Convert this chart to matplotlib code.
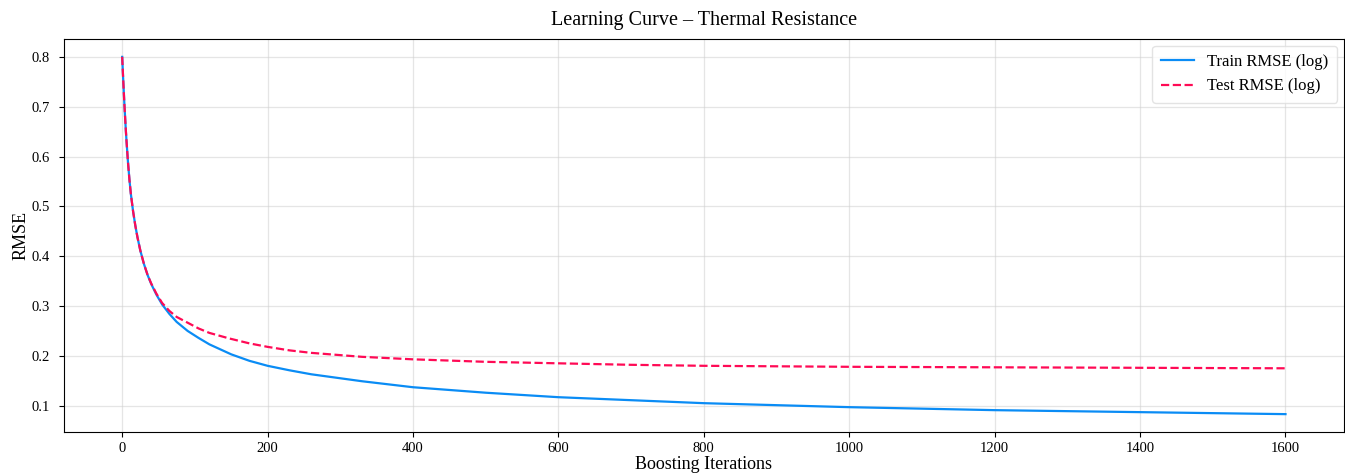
import matplotlib
matplotlib.use("Agg")
import matplotlib.pyplot as plt

plt.rcParams["font.family"] = ["Liberation Serif", "DejaVu Serif"]

# Boosting iterations at which the RMSE was recorded
train_iters = [0, 1, 2, 3, 4, 5, 6, 8, 10, 12, 15, 18, 21, 25, 30, 35, 40, 47,
               55, 65, 75, 90, 105, 120, 150, 175, 200, 230, 260, 330, 400,
               500, 600, 700, 800, 900, 1000, 1200, 1400, 1600]
train_rmse = [0.800, 0.767, 0.736, 0.706, 0.679, 0.653, 0.630, 0.588, 0.553,
              0.524, 0.490, 0.462, 0.438, 0.411, 0.384, 0.362, 0.344, 0.323,
              0.303, 0.284, 0.268, 0.250, 0.236, 0.223, 0.203, 0.190, 0.180,
              0.171, 0.163, 0.149, 0.137, 0.126, 0.117, 0.111, 0.105, 0.101,
              0.097, 0.091, 0.087, 0.083]

test_iters = [0, 1, 2, 3, 4, 5, 6, 8, 10, 12, 15, 18, 21, 25, 30, 35, 40, 47,
              55, 65, 75, 92, 105, 120, 147, 175, 200, 230, 260, 330, 400,
              500, 600, 700, 800, 900, 1000, 1200, 1400, 1600]
test_rmse = [0.800, 0.767, 0.736, 0.706, 0.679, 0.653, 0.630, 0.588, 0.553,
             0.524, 0.490, 0.462, 0.438, 0.411, 0.384, 0.362, 0.345, 0.325,
             0.306, 0.290, 0.278, 0.265, 0.255, 0.246, 0.235, 0.225, 0.218,
             0.211, 0.206, 0.198, 0.193, 0.188, 0.185, 0.182, 0.180, 0.179,
             0.178, 0.177, 0.176, 0.175]

fig = plt.figure(figsize=(13.45, 4.74), dpi=100)
ax = fig.add_axes([0.0476, 0.0886, 0.9514, 0.8291])

ax.plot(train_iters, train_rmse, color="#0a8cf5", lw=1.6, label="Train RMSE (log)")
ax.plot(test_iters, test_rmse, color="#ff0a55", lw=1.6, ls="--",
        label="Test RMSE (log)")

ax.set_title("Learning Curve \u2013 Thermal Resistance", fontsize=14.5, pad=10)
ax.set_xlabel("Boosting Iterations", fontsize=13, labelpad=1)
ax.set_ylabel("RMSE", fontsize=13, labelpad=1)
ax.tick_params(labelsize=10.5)
ax.tick_params(axis="y", pad=7)
ax.set_xticks([0, 200, 400, 600, 800, 1000, 1200, 1400, 1600])
ax.set_yticks([0.1, 0.2, 0.3, 0.4, 0.5, 0.6, 0.7, 0.8])
ax.grid(True, color="#d0d0d0", alpha=0.55, lw=0.9)
ax.legend(loc="upper right", fontsize=12, framealpha=0.8, edgecolor="#dddddd",
          borderpad=0.5, borderaxespad=0.4)

fig.savefig("out.png", dpi=100)
